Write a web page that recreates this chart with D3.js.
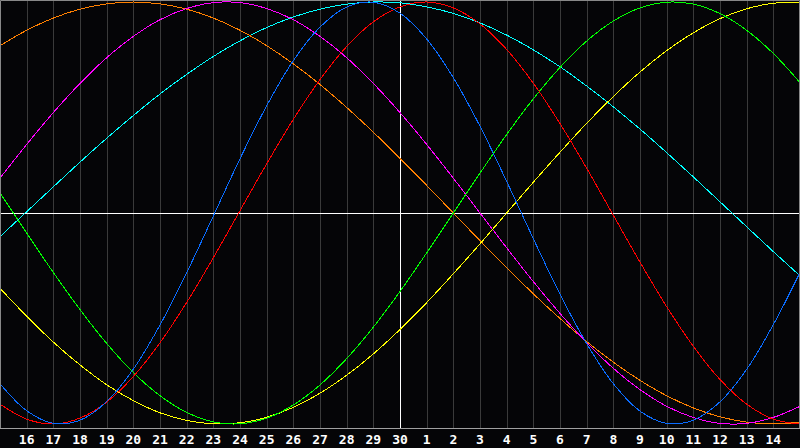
<!DOCTYPE html>
<html>
<head>
<meta charset="utf-8">
<script src="https://cdn.jsdelivr.net/npm/d3@7"></script>
<style>
  body { margin: 0; background: #050507; }
  svg { display: block; }
</style>
</head>
<body>
<svg width="800" height="448"></svg>
<script>
// day labels under the grid (one per grid line)
var days = [16, 17, 18, 19, 20, 21, 22, 23, 24, 25, 26, 27, 28, 29, 30,
            1, 2, 3, 4, 5, 6, 7, 8, 9, 10, 11, 12, 13, 14];
var today = 30;

// cycle values read per day, from left edge (k=0) to right edge (k=30)
var physical = [-0.809, -0.937, -0.997, -0.982, -0.894, -0.740, -0.531, -0.283, -0.014, 0.257, 0.508,
                0.722, 0.881, 0.976, 0.999, 0.947, 0.825, 0.641, 0.411, 0.150, -0.122,
                -0.385, -0.619, -0.809, -0.939, -0.997, -0.982, -0.895, -0.741, -0.529, -0.282];
var emotional = [-0.906, -0.977, -1.000, -0.972, -0.896, -0.775, -0.615, -0.424, -0.212, 0.011, 0.233,
                 0.444, 0.632, 0.789, 0.906, 0.977, 1.000, 0.972, 0.896, 0.775, 0.615,
                 0.424, 0.212, -0.011, -0.233, -0.444, -0.632, -0.789, -0.906, -0.977, -1.000];
var intellectual = [0.095, -0.095, -0.282, -0.458, -0.618, -0.756, -0.866, -0.945, -0.990, -0.999, -0.972,
                    -0.910, -0.815, -0.690, -0.541, -0.372, -0.189, 0.000, 0.189, 0.372, 0.541,
                    0.690, 0.815, 0.910, 0.972, 0.999, 0.990, 0.945, 0.866, 0.756, 0.618];
var intuitive = [0.165, 0.325, 0.476, 0.614, 0.736, 0.837, 0.916, 0.969, 0.997, 0.997, 0.969,
                 0.916, 0.837, 0.736, 0.614, 0.476, 0.325, 0.165, 0.000, -0.165, -0.325,
                 -0.476, -0.614, -0.736, -0.837, -0.916, -0.969, -0.997, -0.997, -0.969, -0.916];
var aesthetic = [-0.357, -0.489, -0.612, -0.720, -0.814, -0.889, -0.947, -0.983, -0.999, -0.994, -0.968,
                 -0.921, -0.854, -0.769, -0.668, -0.552, -0.425, -0.288, -0.146, 0.000, 0.146,
                 0.288, 0.425, 0.552, 0.668, 0.769, 0.854, 0.921, 0.968, 0.994, 0.999];
var awareness = [0.793, 0.866, 0.924, 0.966, 0.991, 1.000, 0.991, 0.966, 0.924, 0.866, 0.793,
                 0.707, 0.609, 0.500, 0.383, 0.259, 0.131, 0.000, -0.131, -0.259, -0.383,
                 -0.500, -0.609, -0.707, -0.793, -0.866, -0.924, -0.966, -0.991, -1.000, -0.991];
var spiritual = [-0.112, 0.006, 0.124, 0.241, 0.354, 0.462, 0.564, 0.657, 0.742, 0.816, 0.879,
                 0.929, 0.966, 0.990, 1.000, 0.996, 0.977, 0.946, 0.901, 0.843, 0.773,
                 0.693, 0.602, 0.503, 0.398, 0.286, 0.171, 0.053, -0.065, -0.183, -0.298];

var series = [
  { values: spiritual, color: "#00ffff" },
  { values: awareness, color: "#ff8000" },
  { values: intuitive, color: "#ff00ff" },
  { values: aesthetic, color: "#ffff00" },
  { values: intellectual, color: "#00ff00" },
  { values: emotional, color: "#ff0000" },
  { values: physical, color: "#0a6cff" }
];

var svg = d3.select("svg");
var W = 800, plotBottom = 428;

var x = d3.scaleLinear().domain([0, 30]).range([0, W]);
var y = d3.scaleLinear().domain([-1, 1]).range([424, 2]);

svg.append("rect").attr("width", W).attr("height", 448).attr("fill", "#050507");

// vertical day grid
svg.append("g").selectAll("line").data(days).enter().append("line")
  .attr("x1", function (d, i) { return Math.round(x(i + 1)) + 0.5; })
  .attr("x2", function (d, i) { return Math.round(x(i + 1)) + 0.5; })
  .attr("y1", 0).attr("y2", plotBottom)
  .attr("stroke", function (d) { return d === today ? "#ffffff" : "#3a3a3a"; })
  .attr("stroke-width", 1);

// zero line
svg.append("line")
  .attr("x1", 0).attr("x2", W)
  .attr("y1", Math.round(y(0)) + 0.5).attr("y2", Math.round(y(0)) + 0.5)
  .attr("stroke", "#ffffff");

// today line on top of zero line
svg.append("line")
  .attr("x1", Math.round(x(days.indexOf(today) + 1)) + 0.5)
  .attr("x2", Math.round(x(days.indexOf(today) + 1)) + 0.5)
  .attr("y1", 0).attr("y2", plotBottom)
  .attr("stroke", "#ffffff");

var line = d3.line()
  .x(function (d, i) { return x(i); })
  .y(function (d) { return y(d); })
  .curve(d3.curveCatmullRom.alpha(0.5));

svg.append("g").selectAll("path").data(series).enter().append("path")
  .attr("d", function (s) { return line(s.values); })
  .attr("fill", "none")
  .attr("stroke", function (s) { return s.color; })
  .attr("stroke-width", 1)
  .style("shape-rendering", "crispEdges");

// frame: top, left, right and bottom axis line
svg.append("path")
  .attr("d", "M0.5," + plotBottom + "V0.5H" + (W - 0.5) + "V" + plotBottom)
  .attr("fill", "none").attr("stroke", "#888888");
svg.append("line")
  .attr("x1", 0).attr("x2", W)
  .attr("y1", plotBottom + 0.5).attr("y2", plotBottom + 0.5)
  .attr("stroke", "#a0a0a0");

// day labels
svg.append("g").selectAll("text").data(days).enter().append("text")
  .attr("x", function (d, i) { return x(i + 1); })
  .attr("y", 444)
  .attr("text-anchor", "middle")
  .attr("fill", "#ffffff")
  .style("font-family", "'DejaVu Sans Mono', monospace")
  .style("font-weight", "bold")
  .style("font-size", "13px")
  .text(function (d) { return d; });
</script>
</body>
</html>
